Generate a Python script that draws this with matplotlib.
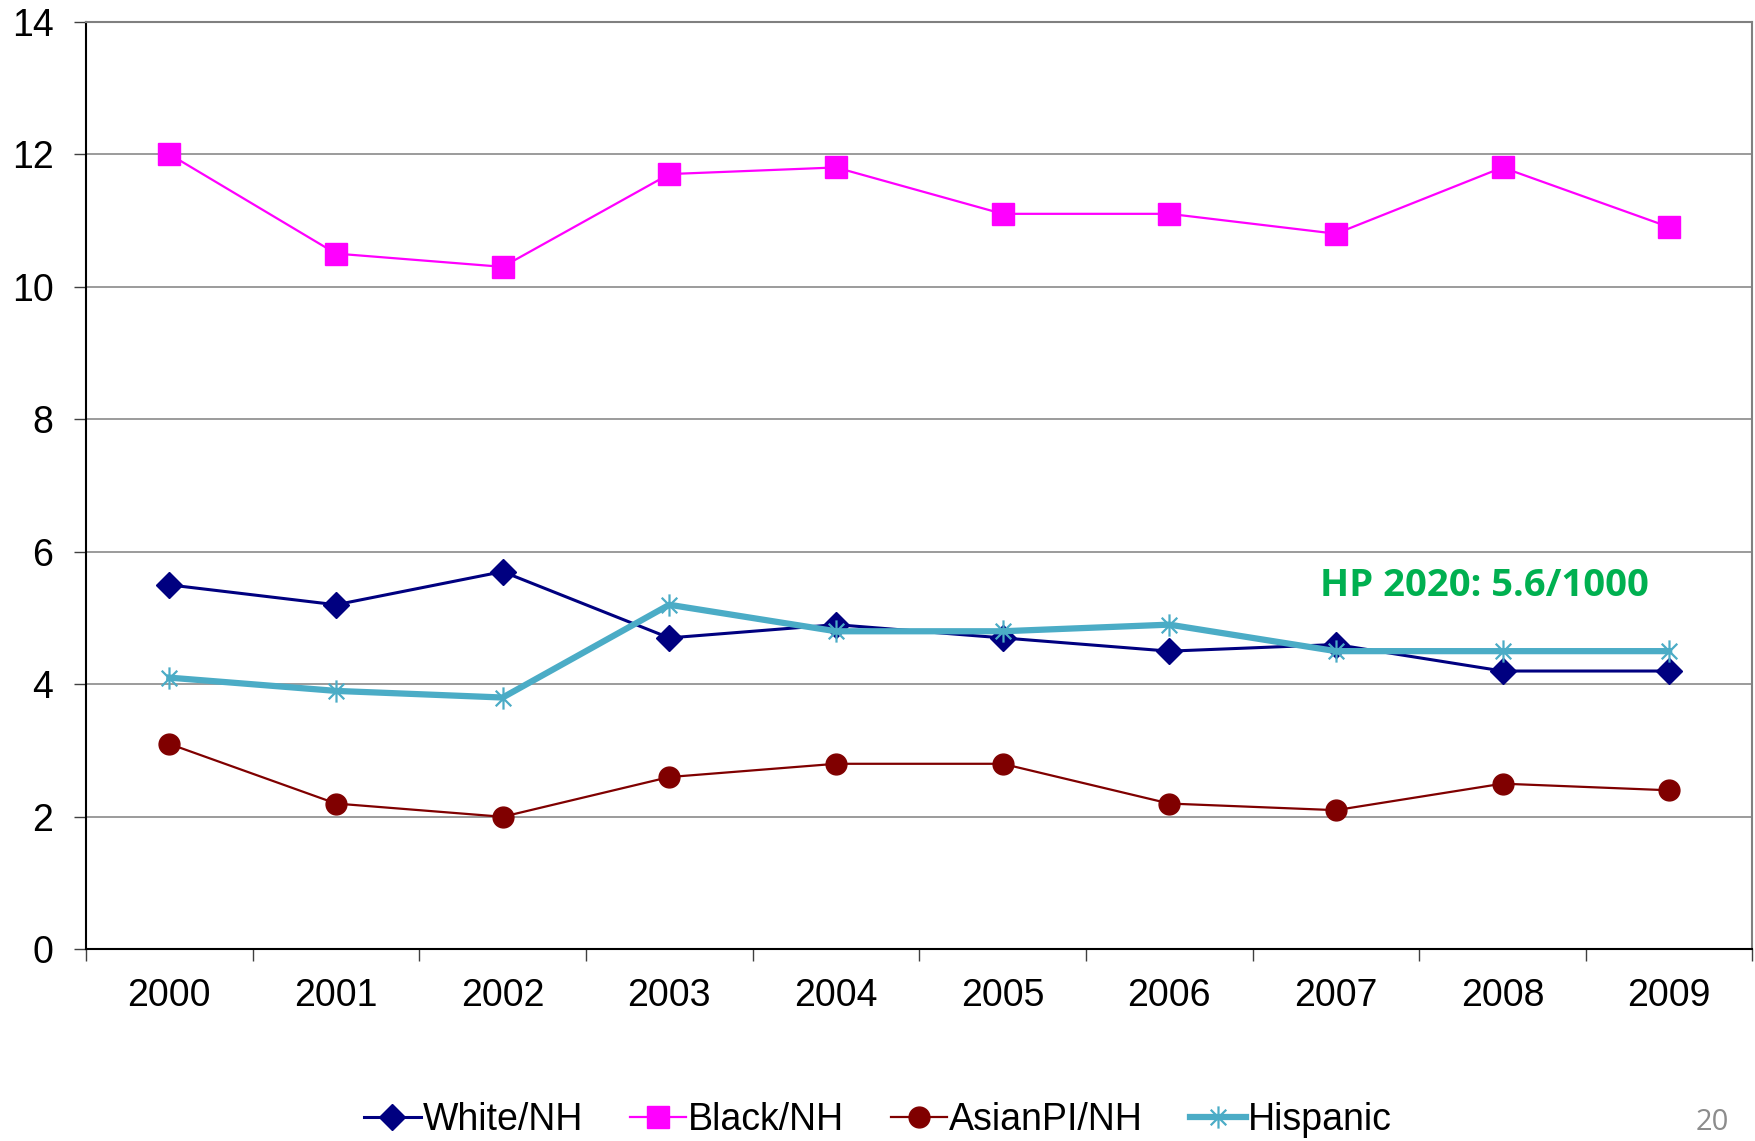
import numpy as np
import matplotlib.pyplot as plt
from matplotlib.path import Path

years = ['2000', '2001', '2002', '2003', '2004', '2005', '2006', '2007', '2008', '2009']
white_nh = [5.5, 5.2, 5.7, 4.7, 4.9, 4.7, 4.5, 4.6, 4.2, 4.2]
black_nh = [12.0, 10.5, 10.3, 11.7, 11.8, 11.1, 11.1, 10.8, 11.8, 10.9]
asian_nh = [3.1, 2.2, 2.0, 2.6, 2.8, 2.8, 2.2, 2.1, 2.5, 2.4]
hispanic = [4.1, 3.9, 3.8, 5.2, 4.8, 4.8, 4.9, 4.5, 4.5, 4.5]
series_names = ['White/NH', 'Black/NH', 'AsianPI/NH', 'Hispanic']

plt.rcParams['font.family'] = ['Liberation Sans', 'DejaVu Sans']

# excel style star: vertical bar plus an x
star = Path([(0, -1), (0, 1), (-0.7, -0.7), (0.7, 0.7), (-0.7, 0.7), (0.7, -0.7)],
            [Path.MOVETO, Path.LINETO, Path.MOVETO, Path.LINETO, Path.MOVETO, Path.LINETO])

fig = plt.figure(figsize=(17.56, 11.41), dpi=100)
ax = fig.add_axes([0.049, 0.168, 0.949, 0.813])
x = np.arange(len(years))

ax.plot(x, white_nh, color='#000080', lw=2.2, marker='D', ms=13, label=series_names[0])
ax.plot(x, black_nh, color='#FF00FF', lw=1.6, marker='s', ms=16, label=series_names[1])
ax.plot(x, asian_nh, color='#800000', lw=1.6, marker='o', ms=15, label=series_names[2])
ax.plot(x, hispanic, color='#4BACC6', lw=4.5, marker=star, ms=16, mew=1.6,
        label=series_names[3])

ax.set_xlim(-0.5, len(years) - 0.5)
ax.set_ylim(0, 14)
ax.set_yticks(np.arange(0, 15, 2))
ax.grid(axis='y', color='#808080', lw=1.1)
ax.set_axisbelow(True)

ax.set_xticks(np.arange(-0.5, len(years), 1))
ax.set_xticklabels([])
ax.set_xticks(x, minor=True)
ax.set_xticklabels(years, minor=True)
ax.tick_params(axis='x', which='major', length=8.5, width=1, color='#404040')
ax.tick_params(axis='x', which='minor', length=0, pad=21, labelsize=27)
ax.tick_params(axis='y', length=8.5, width=1, color='#404040', pad=15, labelsize=27)

for s in ['left', 'bottom']:
    ax.spines[s].set_color('black')
    ax.spines[s].set_linewidth(1.5)
for s in ['top', 'right']:
    ax.spines[s].set_color('#808080')
    ax.spines[s].set_linewidth(1.5)

ax.text(7.89, 5.48, 'HP 2020: 5.6/1000', color='#00B050', fontsize=27.5,
        fontweight='bold', family='Open Sans', ha='center', va='center')

fig.legend(loc='center', bbox_to_anchor=(0.5, 0.018), ncol=4, frameon=False,
           fontsize=27, handlelength=1.5, handletextpad=0.05, columnspacing=1.25)

fig.text(0.975, 0.016, '20', color='#8C8C8C', fontsize=21, family='Open Sans',
         ha='center', va='center')

fig.savefig('out.png', dpi=100)
